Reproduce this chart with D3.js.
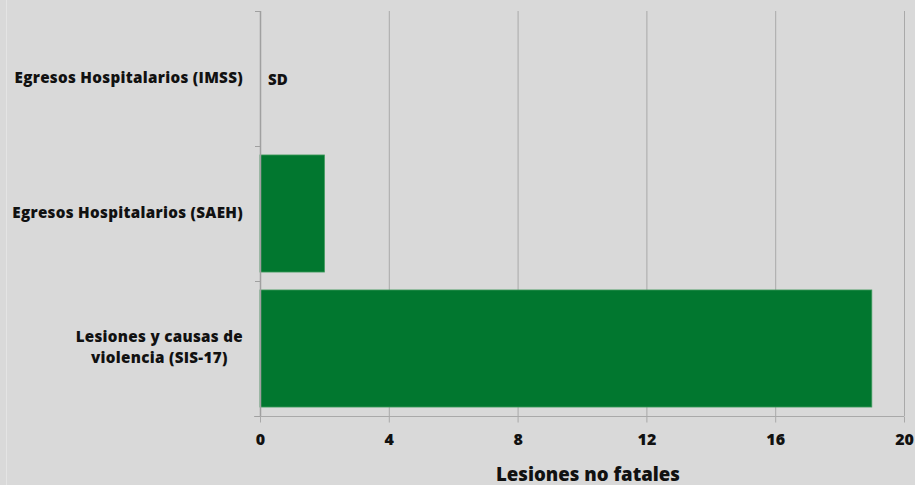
<!DOCTYPE html>
<html>
<head>
<meta charset="utf-8">
<script src="https://cdn.jsdelivr.net/npm/d3@7"></script>
<style>
  body { margin: 0; background: #d9d9d9; }
  svg { display: block; font-family: "Open Sans", sans-serif; }
</style>
</head>
<body>
<div id="chart"></div>
<script>
// data
const categories = ["Egresos Hospitalarios (IMSS)", "Egresos Hospitalarios (SAEH)", "Lesiones y causas de violencia (SIS-17)"];
const values = [null, 2, 19];
const xTicks = [0, 4, 8, 12, 16, 20];
const xTitle = "Lesiones no fatales";

const width = 915, height = 485;
const margin = {top: 11, right: 11, bottom: 69, left: 260};
const font = "'Open Sans', sans-serif";

const svg = d3.select("#chart")
  .append("svg")
  .attr("width", width)
  .attr("height", height);

svg.append("rect").attr("width", width).attr("height", height).attr("fill", "#d9d9d9");
svg.append("line").attr("x1", 6.5).attr("x2", 6.5).attr("y1", 0).attr("y2", height)
  .attr("stroke", "#e4e4e4");

const xScale = d3.scaleLinear().domain([0, 20]).range([margin.left, width - margin.right]);
const yScale = d3.scaleBand().domain(categories)
  .range([margin.top, height - margin.bottom])
  .paddingInner(0.133).paddingOuter(0.0665);

// grid lines
svg.append("g")
  .selectAll("line")
  .data(xTicks.filter(d => d > 0))
  .enter()
  .append("line")
  .attr("x1", d => xScale(d) + 0.5)
  .attr("x2", d => xScale(d) + 0.5)
  .attr("y1", margin.top)
  .attr("y2", height - margin.bottom)
  .attr("stroke", "#a9a9a9")
  .attr("stroke-width", 1);

// bars
svg.append("g")
  .selectAll("rect")
  .data(categories.map((c, i) => ({c, v: values[i]})).filter(d => d.v != null))
  .enter()
  .append("rect")
  .attr("x", xScale(0))
  .attr("y", d => yScale(d.c))
  .attr("width", d => xScale(d.v) - xScale(0))
  .attr("height", yScale.bandwidth())
  .attr("fill", "#01772f")
  .attr("stroke", "#3f9a5c")
  .attr("stroke-width", 0.8);

// SD label for missing data
svg.append("g")
  .selectAll("text")
  .data(categories.filter((c, i) => values[i] == null))
  .enter()
  .append("text")
  .attr("x", xScale(0) + 8)
  .attr("y", d => yScale(d) + yScale.step() / 2 - 8)
  .attr("dy", "0.35em")
  .attr("font-size", 15)
  .attr("font-weight", 800)
  .attr("fill", "#111")
  .text("SD");

// x axis
const xAxis = svg.append("g")
  .attr("transform", `translate(0,${height - margin.bottom + 0.5})`)
  .call(d3.axisBottom(xScale).tickValues(xTicks).tickSize(6).tickPadding(11));
xAxis.select(".domain").attr("stroke", "#a9a9a9").attr("d", `M${margin.left - 6},0H${width - margin.right}`);
xAxis.selectAll(".tick line").attr("stroke", "#a9a9a9");
xAxis.selectAll("text")
  .attr("font-size", 16)
  .attr("font-weight", 800)
  .attr("fill", "#111")
  .attr("font-family", font);

// y axis: line plus ticks at band boundaries
const yBounds = categories.map(c => yScale(c) - yScale.step() * yScale.paddingInner() / 2)
  .concat([height - margin.bottom]);
svg.append("line")
  .attr("x1", margin.left + 0.5).attr("x2", margin.left + 0.5)
  .attr("y1", margin.top).attr("y2", height - margin.bottom)
  .attr("stroke", "#a0a0a0").attr("stroke-width", 1.5);
svg.append("g")
  .selectAll("line")
  .data(yBounds)
  .enter()
  .append("line")
  .attr("x1", margin.left - 5).attr("x2", margin.left)
  .attr("y1", d => Math.round(d) + 0.5).attr("y2", d => Math.round(d) + 0.5)
  .attr("stroke", "#a0a0a0");

// category labels, wrapped and centred, widest line ends near the axis
const labelLines = [
  ["Egresos Hospitalarios (IMSS)"],
  ["Egresos Hospitalarios (SAEH)"],
  ["Lesiones y causas de", "violencia (SIS-17)"]
];
const labelRight = margin.left - 17;
const labelGroups = svg.append("g")
  .selectAll("g")
  .data(categories)
  .enter()
  .append("g");
labelGroups.each(function(d, i) {
  const lines = labelLines[i];
  const cy = yScale(d) + yScale.bandwidth() / 2 - 1;
  const texts = lines.map((t, k) => d3.select(this).append("text")
    .attr("text-anchor", "middle")
    .attr("font-size", 15.2)
    .attr("letter-spacing", 0.3)
    .attr("font-weight", 800)
    .attr("fill", "#111")
    .attr("y", cy + (k - (lines.length - 1) / 2) * 21)
    .attr("dy", "0.35em")
    .text(t));
  const maxW = d3.max(texts, s => s.node().getComputedTextLength());
  texts.forEach(s => s.attr("x", labelRight - maxW / 2));
});

// x axis title
svg.append("text")
  .attr("x", 588)
  .attr("y", 474)
  .attr("dy", "0.35em")
  .attr("text-anchor", "middle")
  .attr("font-size", 18.6)
  .attr("font-weight", 800)
  .attr("fill", "#111")
  .text(xTitle);
</script>
</body>
</html>
